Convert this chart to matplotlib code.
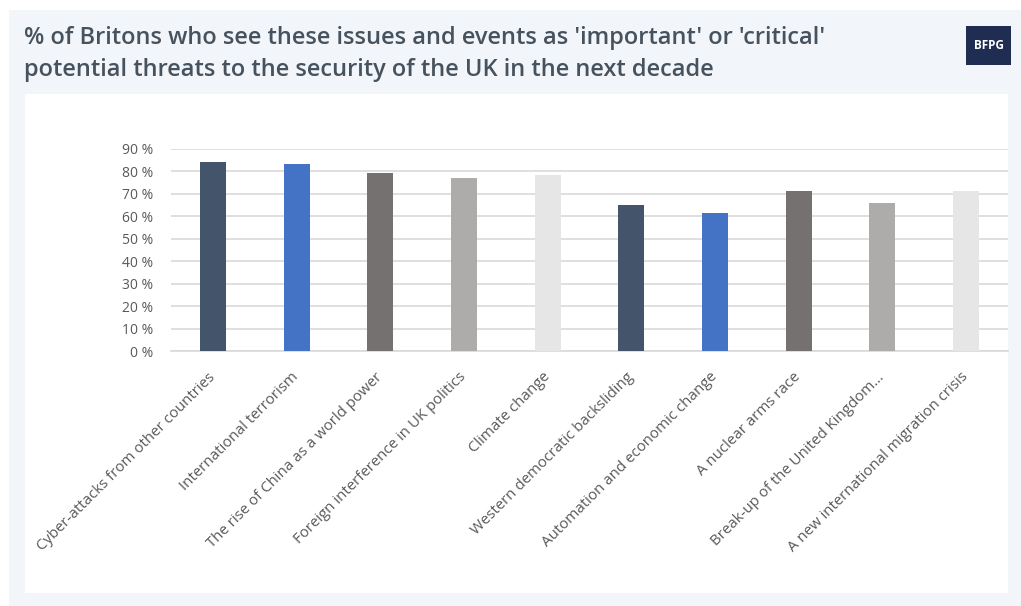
import matplotlib
matplotlib.use("Agg")
import matplotlib.pyplot as plt
from matplotlib.patches import Rectangle

categories = [
    "Cyber-attacks from other countries",
    "International terrorism",
    "The rise of China as a world power",
    "Foreign interference in UK politics",
    "Climate change",
    "Western democratic backsliding",
    "Automation and economic change",
    "A nuclear arms race",
    "Break-up of the United Kingdom\u2026",
    "A new international migration crisis",
]
values = [84, 83, 79, 77, 78.5, 65, 61.5, 71, 66, 71]
bar_colors = ["#44546a", "#4472c4", "#767171", "#aeabab", "#e7e6e6",
              "#44546a", "#4472c4", "#767171", "#aeabab", "#e7e6e6"]
yticks = [0, 10, 20, 30, 40, 50, 60, 70, 80, 90]
ytick_labels = [f"{v} %" for v in yticks]
title_lines = ["% of Britons who see these issues and events as 'important' or 'critical'",
               "potential threats to the security of the UK in the next decade"]

W, H = 1021, 606
fig = plt.figure(figsize=(W / 100, H / 100), dpi=100)
fig.patch.set_facecolor("white")

def fx(px):
    return px / W

def fy(py):
    return 1 - py / H

# outer light panel
fig.patches.append(Rectangle((fx(9), 0), 1 - fx(9), fy(10), transform=fig.transFigure,
                             facecolor="#f2f5f9", edgecolor="none", zorder=0))
# inner white panel
fig.patches.append(Rectangle((fx(25), fy(593)), fx(1008) - fx(25), fy(94) - fy(593),
                             transform=fig.transFigure, facecolor="white",
                             edgecolor="none", zorder=1))
# logo box
fig.patches.append(Rectangle((fx(966), fy(65)), fx(1011) - fx(966), fy(26) - fy(65),
                             transform=fig.transFigure, facecolor="#1f2d52",
                             edgecolor="none", zorder=2))
fig.text(fx(988.5), fy(45.5), "BFPG", color="white", fontsize=8.5, fontweight="bold",
         ha="center", va="center", family="Open Sans", zorder=3)

for line, base in zip(title_lines, [44, 76]):
    fig.text(fx(24), fy(base), line, fontsize=17, fontweight="semibold", color="#46525d",
             family="Open Sans", ha="left", va="baseline", zorder=3)

ax = fig.add_axes([fx(171), fy(351.3), fx(1008) - fx(171), fy(148.7) - fy(351.3)])
ax.set_facecolor("none")
ax.set_zorder(4)
x = list(range(len(categories)))
ax.bar(x, values, width=0.31, color=bar_colors, zorder=3)
ax.set_xlim(-0.5, len(categories) - 0.5)
ax.set_ylim(0, 90)
ax.set_yticks(yticks)
ax.set_yticklabels(ytick_labels, family="Open Sans", fontsize=10, color="#595959")
ax.set_xticks(x)
ax.set_xticklabels(categories, rotation=45, ha="right", va="center",
                   rotation_mode="anchor", family="Open Sans", fontsize=10.8,
                   color="#595959")
ax.tick_params(axis="both", length=0)
ax.tick_params(axis="y", pad=13)
ax.tick_params(axis="x", pad=17)
ax.grid(axis="y", color="#d9d9d9", linewidth=1.2, zorder=0)
for s in ["top", "right", "left"]:
    ax.spines[s].set_visible(False)
ax.spines["bottom"].set_color("#d9d9d9")
ax.spines["bottom"].set_linewidth(1.2)

fig.savefig("out.png", dpi=100, facecolor=fig.get_facecolor())
